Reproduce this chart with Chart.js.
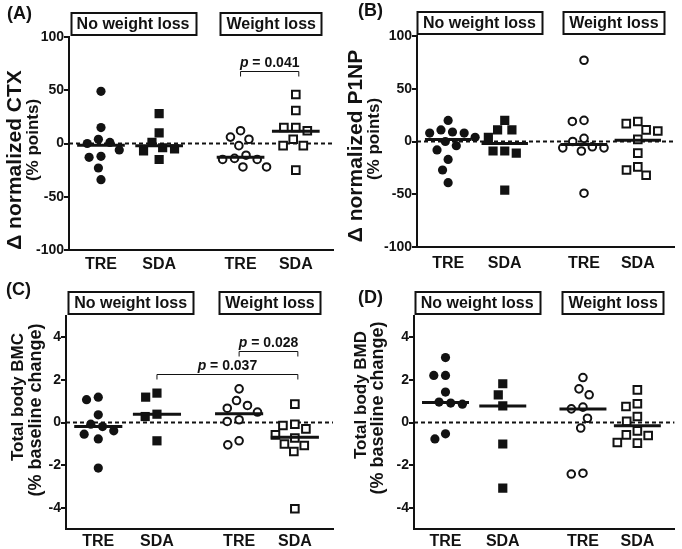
<!DOCTYPE html>
<html>
<head>
<meta charset="utf-8">
<script src="https://cdn.jsdelivr.net/npm/chart.js@4/dist/chart.umd.min.js"></script>
<style>
  body { margin: 0; background: #fff; }
  #wrap { position: relative; width: 682px; height: 549px; }
  #wrap canvas { position: absolute; }
</style>
</head>
<body>
<div id="wrap">
  <canvas id="panelA" width="341" height="275" style="left:0;top:0"></canvas>
  <canvas id="panelB" width="341" height="275" style="left:341px;top:0"></canvas>
  <canvas id="panelC" width="341" height="274" style="left:0;top:275px"></canvas>
  <canvas id="panelD" width="341" height="274" style="left:341px;top:275px"></canvas>
</div>
<script>
const groupLabels = ['TRE', 'SDA', 'TRE', 'SDA'];
const headerLabels = ['No weight loss', 'Weight loss'];
const percentTicks = [-100, -50, 0, 50, 100];
const changeTicks = [-4, -2, 0, 2, 4];

// (A) delta normalized CTX, % points
const ctxTreNo = [49, 15, 4, 1, 0, -6, -12, -13, -23, -34];
const ctxSdaNo = [28, 10, -5, -4, 1, -7, -15];
const ctxTreWl = [12, 4, 6, -2, -15, -15, -11, -14, -22, -22];
const ctxSdaWl = [46, 31, 15, 12, 15, 4, -2, -2, -25];
const ctxMedian = [-1.6, -2, -13, 11.6];

// (B) delta normalized P1NP, % points
const p1npTreNo = [20, 8, 9, 11, 8, 0, 4, -4, -8, -17, -27, -39];
const p1npSdaNo = [20, 11, 11, 4, -9, -11, -9, -46];
const p1npTreWl = [77, 20, 19, 3, 0, -6, -5, -9, -6, -49];
const p1npSdaWl = [19, 17, 11, 10, 2, -11, -24, -27, -32];
const p1npMedian = [1.9, -1.9, -2.9, 1.2];

// (C) total body BMC, % baseline change
const bmcTreNo = [1.19, 1.07, 0.36, -0.19, -0.08, -0.55, -0.77, -0.39, -2.14];
const bmcSdaNo = [1.19, 1.38, 0.39, 0.28, -0.86];
const bmcTreWl = [1.58, 1.03, 0.67, 0.8, 0.49, 0.13, 0.05, -1.05, -0.86];
const bmcSdaWl = [0.86, -0.08, -0.14, -0.3, -0.73, -0.58, -1.01, -1.08, -1.36, -4.05];
const bmcMedian = [-0.19, 0.39, 0.41, -0.69];

// (D) total body BMD, % baseline change
const bmdTreNo = [3.05, 2.21, 2.21, 1.43, 0.91, 0.86, 0.96, -0.77, -0.53];
const bmdSdaNo = [1.82, 1.3, 0.78, -1.01, -3.08];
const bmdTreWl = [2.11, 1.58, 1.3, 0.64, 0.72, 0.2, -0.26, -2.42, -2.38];
const bmdSdaWl = [1.53, 0.88, 0.75, 0.28, 0.05, -0.61, -0.39, -0.58, -0.97, -0.94];
const bmdMedian = [0.94, 0.78, 0.63, -0.15];

const pValuesA = ['0.041'];
const pValuesC = ['0.028', '0.037'];

const ink = '#121212';
const fontFamily = '"Liberation Sans", Arial, Helvetica, sans-serif';
Chart.defaults.font.family = fontFamily;

// column positions on the x axis, with a gap between the two weight groups
const xPos = [1, 2, 3.4, 4.35];
const xMin = 0.45, xMax = 5.0;
const medianHalf = 0.41;

const markers = [
  { style: 'circle', radius: 4.6, filled: true },
  { style: 'rect', radius: 6.5, filled: true },
  { style: 'circle', radius: 3.8, filled: false },
  { style: 'rect', radius: 5.4, filled: false }
];

// simple beeswarm so that points with close values sit side by side
function swarm(values, cx, pxPerY, pxPerX) {
  const d = 12;
  const order = values.map((v, i) => i).sort((a, b) => values[b] - values[a]);
  const placed = [];
  const out = new Array(values.length);
  order.forEach(i => {
    const py = values[i] * pxPerY;
    const cands = [0];
    placed.forEach(p => {
      const dy = Math.abs(p.py - py);
      if (dy < d) {
        const dx = Math.sqrt(d * d - dy * dy);
        cands.push(p.px - dx, p.px + dx);
      }
    });
    cands.sort((a, b) => Math.abs(a) - Math.abs(b) || a - b);
    const px = cands.find(c => placed.every(p => Math.hypot(p.px - c, p.py - py) >= d - 0.01));
    placed.push({ px, py });
    out[i] = { x: cx + px / pxPerX, y: values[i] };
  });
  return out;
}

const panels = [
  {
    id: 'panelA', letter: '(A)', letterPos: [7, 14],
    series: [ctxTreNo, ctxSdaNo, ctxTreWl, ctxSdaWl], medians: ctxMedian,
    yMin: -100, yMax: 100, yTicks: percentTicks,
    titles: [
      { text: '\u0394 normalized CTX', size: 21, x: 15, y: 160 },
      { text: '(% points)', size: 17, x: 33, y: 140 }
    ],
    left: 69, top: 37, right: 6, xHeight: 25, xPad: 5,
    brackets: [{ from: 2, to: 3, y: 68, p: pValuesA[0] }]
  },
  {
    id: 'panelB', letter: '(B)', letterPos: [17, 11],
    series: [p1npTreNo, p1npSdaNo, p1npTreWl, p1npSdaWl], medians: p1npMedian,
    yMin: -100, yMax: 100, yTicks: percentTicks,
    titles: [
      { text: '\u0394 normalized P1NP', size: 21, x: 15, y: 146 },
      { text: '(% points)', size: 17, x: 33, y: 139 }
    ],
    left: 76, top: 36, right: 1, xHeight: 28, xPad: 7,
    brackets: []
  },
  {
    id: 'panelC', letter: '(C)', letterPos: [6, 15],
    series: [bmcTreNo, bmcSdaNo, bmcTreWl, bmcSdaWl], medians: bmcMedian,
    yMin: -5, yMax: 5, yTicks: changeTicks,
    titles: [
      { text: 'Total body BMC', size: 17, x: 18, y: 122 },
      { text: '(% baseline change)', size: 18, x: 36, y: 135 }
    ],
    left: 66, top: 41, right: 8, xHeight: 20, xPad: 3,
    brackets: [{ from: 2, to: 3, y: 3.37, p: pValuesC[0] }, { from: 1, to: 3, y: 2.27, p: pValuesC[1] }]
  },
  {
    id: 'panelD', letter: '(D)', letterPos: [17, 23],
    series: [bmdTreNo, bmdSdaNo, bmdTreWl, bmdSdaWl], medians: bmdMedian,
    yMin: -5, yMax: 5, yTicks: changeTicks,
    titles: [
      { text: 'Total body BMD', size: 17, x: 20, y: 120 },
      { text: '(% baseline change)', size: 18, x: 37, y: 133 }
    ],
    left: 73, top: 41, right: 1, xHeight: 20, xPad: 3,
    brackets: []
  }
];

function decorations(p) {
  return {
    id: 'decorations',
    afterDraw(chart) {
      const { ctx, chartArea, scales: { x, y } } = chart;
      ctx.save();
      ctx.fillStyle = ink;
      ctx.strokeStyle = ink;

      ctx.font = 'bold 18px ' + fontFamily;
      ctx.textAlign = 'left';
      ctx.textBaseline = 'middle';
      ctx.fillText(p.letter, p.letterPos[0], p.letterPos[1]);

      // rotated y axis title, two lines
      ctx.textAlign = 'center';
      p.titles.forEach(t => {
        ctx.save();
        ctx.translate(t.x, t.y);
        ctx.rotate(-Math.PI / 2);
        ctx.font = 'bold ' + t.size + 'px ' + fontFamily;
        ctx.fillText(t.text, 0, 0);
        ctx.restore();
      });

      ctx.font = 'bold 16px ' + fontFamily;
      headerLabels.forEach((h, i) => {
        const cx = (x.getPixelForValue(xPos[2 * i]) + x.getPixelForValue(xPos[2 * i + 1])) / 2 + 3;
        const w = ctx.measureText(h).width + 12;
        const top = chartArea.top - 24;
        ctx.lineWidth = 2;
        ctx.strokeRect(Math.round(cx - w / 2) + 0.5, top, Math.round(w), 22);
        ctx.fillText(h, cx, top + 12);
      });

      p.brackets.forEach(b => {
        const x1 = x.getPixelForValue(xPos[b.from]);
        const x2 = x.getPixelForValue(xPos[b.to]) + 3;
        const yy = Math.round(y.getPixelForValue(b.y)) + 0.5;
        ctx.lineWidth = 1;
        ctx.beginPath();
        ctx.moveTo(x1, yy + 5);
        ctx.lineTo(x1, yy);
        ctx.lineTo(x2, yy);
        ctx.lineTo(x2, yy + 5);
        ctx.stroke();
        const italic = 'italic bold 14px ' + fontFamily;
        const bold = 'bold 14px ' + fontFamily;
        const rest = ' = ' + b.p;
        ctx.font = italic;
        const wp = ctx.measureText('p').width;
        ctx.font = bold;
        const wr = ctx.measureText(rest).width;
        const sx = (x1 + x2) / 2 - (wp + wr) / 2;
        ctx.textAlign = 'left';
        ctx.textBaseline = 'alphabetic';
        ctx.font = italic;
        ctx.fillText('p', sx, yy - 5);
        ctx.font = bold;
        ctx.fillText(rest, sx + wp, yy - 5);
      });
      ctx.restore();
    }
  };
}

function makePanel(p) {
  const canvas = document.getElementById(p.id);
  const plotW = canvas.width - p.left - p.right;
  const plotH = canvas.height - p.top - p.xHeight;
  const pxPerY = plotH / (p.yMax - p.yMin);
  const pxPerX = plotW / (xMax - xMin);

  const pointSets = p.series.map((vals, i) => {
    const m = markers[i];
    return {
      data: swarm(vals, xPos[i], pxPerY, pxPerX),
      pointStyle: m.style,
      pointRadius: m.radius,
      backgroundColor: m.filled ? ink : '#fff',
      borderColor: ink,
      borderWidth: m.filled ? 0 : 2,
      showLine: false,
      order: 1
    };
  });
  const medianSets = p.medians.map((m, i) => ({
    data: [{ x: xPos[i] - medianHalf, y: m }, { x: xPos[i] + medianHalf, y: m }],
    showLine: true,
    borderColor: ink,
    borderWidth: 3,
    pointRadius: 0,
    order: 0
  }));
  const zeroLine = {
    data: [{ x: xMin, y: 0 }, { x: xMax, y: 0 }],
    showLine: true,
    borderColor: ink,
    borderWidth: 1.8,
    borderDash: [4, 3],
    pointRadius: 0,
    order: 2
  };

  return new Chart(canvas, {
    type: 'scatter',
    data: { datasets: [...medianSets, ...pointSets, zeroLine] },
    options: {
      responsive: false,
      animation: false,
      events: [],
      layout: { padding: { top: p.top, right: p.right, left: 0, bottom: 0 } },
      plugins: { legend: { display: false }, tooltip: { enabled: false } },
      scales: {
        x: {
          type: 'linear', min: xMin, max: xMax,
          grid: { display: false, drawTicks: false },
          border: { display: true, color: ink, width: 2 },
          afterBuildTicks: s => { s.ticks = xPos.map(v => ({ value: v })); },
          ticks: {
            color: ink, padding: p.xPad, maxRotation: 0, autoSkip: false,
            font: { size: 16, weight: 'bold' },
            callback: (v, i) => groupLabels[i]
          },
          afterFit: s => { s.height = p.xHeight; }
        },
        y: {
          min: p.yMin, max: p.yMax,
          grid: { display: true, drawOnChartArea: false, drawTicks: true, tickLength: 5, lineWidth: 2, color: ink },
          border: { display: true, color: ink, width: 2 },
          afterBuildTicks: s => { s.ticks = p.yTicks.map(v => ({ value: v })); },
          ticks: { color: ink, padding: 0, font: { size: 14, weight: 'bold' } },
          afterFit: s => { s.width = p.left; }
        }
      }
    },
    plugins: [decorations(p)]
  });
}

panels.forEach(makePanel);
</script>
</body>
</html>
